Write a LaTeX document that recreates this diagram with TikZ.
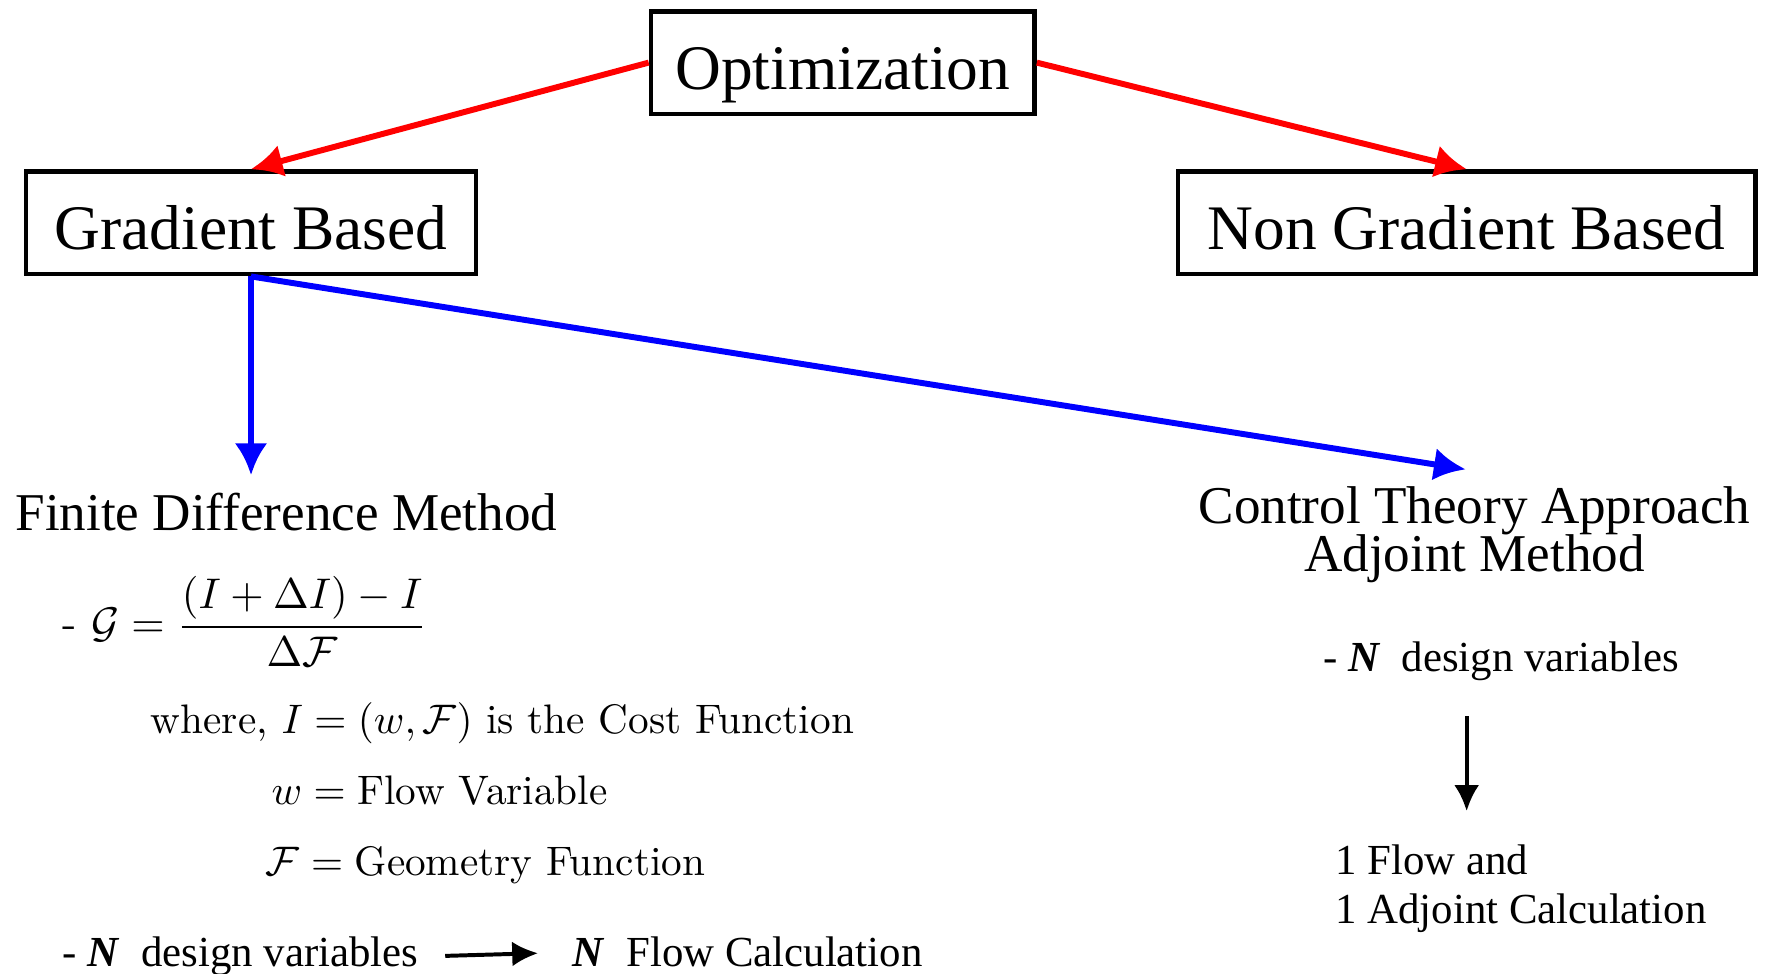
\documentclass[tikz,border=0pt]{standalone}
\usepackage{amsmath}
\usepackage{amsfonts}
\usepackage{fontspec}
\setmainfont{Liberation Serif}
\usetikzlibrary{arrows.meta}

\begin{document}
\begin{tikzpicture}[auto,
  category/.style ={draw, line width=1.15pt, inner sep=0pt, minimum height=0.91cm, text height=14pt, text depth=0.4pt, font=\fontsize{16}{19}\selectfont},
  method/.style ={inner sep=0pt, font=\fontsize{13.4}{15}\selectfont},
  remark/.style ={inner sep=0pt, font=\fontsize{10.8}{12.5}\selectfont},
  formula/.style ={inner sep=0pt, scale=1.04, font=\fontsize{10}{12}\fontfamily{lmr}\selectfont},
  redline/.style ={red, line width=1.5pt, -{Latex[length=0.28cm, width=0.29cm]}},
  blueline/.style ={blue, line width=1.5pt, -{Latex[length=0.28cm, width=0.29cm]}},
  blackline/.style ={black, line width=1pt, -{Latex[length=0.23cm, width=0.22cm]}}]
 \useasboundingbox (0,0) rectangle (15.68,-8.63);
 \node[category, minimum width=3.40cm] (O) at (7.47,-0.555) {Optimization};
 \node[category, minimum width=3.99cm] (G) at (2.225,-1.975) {Gradient Based};
 \node[category, minimum width=5.12cm] (N) at (13.00,-1.975) {Non Gradient Based};

 \node[method, anchor=base west] (fdm) at (0.13,-4.70) {Finite Difference Method};
 \node[method, align=center, anchor=north] (cta) at (13.07,-4.31) {Control Theory Approach\\[-3pt]Adjoint Method};

 \node[formula, scale=1.04, anchor=base west] (grd) at (0.55,-5.65) {- $\mathcal{G} = \dfrac{(I+\Delta I)-I}{\Delta\mathcal{F}}$};
 \node[formula, anchor=base west] (cst) at (1.33,-6.50) {where, $I=(w,\mathcal{F})$ is the Cost Function};
 \node[formula, anchor=base west] (flv) at (2.40,-7.13) {$w = \text{Flow Variable}$};
 \node[formula, anchor=base west] (gmf) at (2.35,-7.76) {$\mathcal{F} = \text{Geometry Function}$};
 \node[remark, anchor=base west] (dvl) at (0.55,-8.57) {- \textbf{\textit{N}}\ \ design variables};
 \node[remark, anchor=base west] (nfc) at (5.07,-8.57) {\textbf{\textit{N}}\ \ Flow Calculation};

 \node[remark, anchor=base west] (dvr) at (11.72,-5.95) {- \textbf{\textit{N}}\ \ design variables};
 \node[remark, align=left, anchor=north west] (flw) at (11.83,-7.48) {1 Flow and\\1 Adjoint Calculation};

 \coordinate (fdtip) at (2.225,-4.21);
 \coordinate (cttip) at (12.99,-4.16);
 \coordinate (dvbot) at (13.00,-6.35);
 \coordinate (fltip) at (13.00,-7.19);

 \draw[redline] (O.west) -- (G.north);
 \draw[redline] (O.east) -- (N.north);
 \draw[blueline] (G.south) -- (fdtip);
 \draw[blueline] (G.south) -- (cttip);
 \draw[blackline] (dvbot) -- (fltip);
 \draw[blackline, shorten <=0.23cm, shorten >=0.30cm] (dvl.east) -- (nfc.west);
\end{tikzpicture}
\end{document}
